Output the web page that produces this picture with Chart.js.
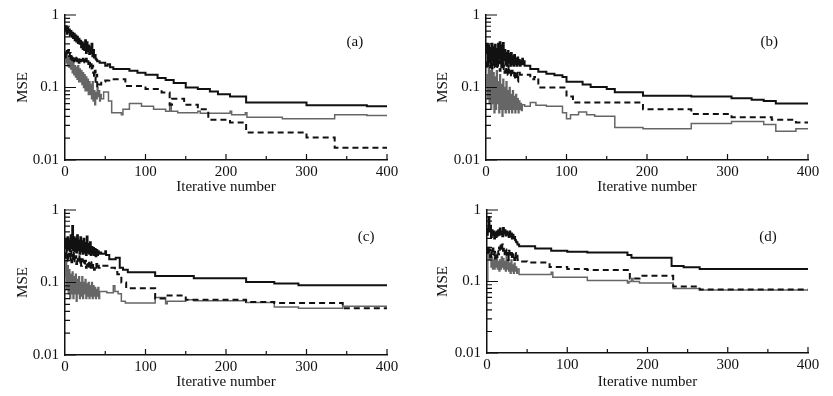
<!DOCTYPE html>
<html lang="en">
<head>
    <meta charset="UTF-8">
    <title>MSE vs iterative number</title>
    <script src="https://cdn.jsdelivr.net/npm/chart.js"></script>
    <style>
        body { margin: 0; background: #fff; }
        .panel { position: absolute; }
    </style>
</head>
<body>
    <canvas id="chartA" class="panel" width="416" height="198" style="left:0;top:0"></canvas>
    <canvas id="chartB" class="panel" width="413" height="198" style="left:420px;top:0"></canvas>
    <canvas id="chartC" class="panel" width="416" height="198" style="left:0;top:195px"></canvas>
    <canvas id="chartD" class="panel" width="413" height="198" style="left:420px;top:195px"></canvas>
    <script>
        // axis values
        const xTicks = [0, 100, 200, 300, 400];
        const yTickLabels = [0.01, 0.1, 1];

        // [iteration, MSE] pairs (stepped lines)
        // panel (a)
        const aBlack = [[0,0.62],[1,0.7],[2,0.55],[3,0.66],[4,0.58],[5,0.63],[6,0.52],[7,0.6],[8,0.5],[9,0.57],[10,0.48],[11,0.55],[12,0.45],[13,0.52],[14,0.43],[15,0.5],[16,0.41],[17,0.47],[18,0.4],[19,0.44],[20,0.36],[21,0.42],[22,0.34],[23,0.4],[24,0.33],[25,0.45],[26,0.3],[27,0.42],[28,0.32],[29,0.38],[30,0.29],[31,0.36],[32,0.3],[33,0.4],[34,0.27],[35,0.33],[36,0.26],[37,0.28],[38,0.25],[39,0.24],[40,0.23],[43,0.22],[50,0.2],[53,0.21],[56,0.19],[60,0.18],[80,0.17],[90,0.16],[100,0.15],[115,0.135],[125,0.127],[135,0.115],[150,0.1],[165,0.095],[180,0.088],[190,0.081],[205,0.075],[225,0.062],[300,0.057],[375,0.055],[400,0.055]];
        const aDash = [[0,0.3],[1,0.26],[2,0.32],[3,0.28],[4,0.33],[5,0.27],[6,0.3],[7,0.25],[8,0.29],[9,0.24],[10,0.27],[11,0.23],[12,0.26],[13,0.24],[14,0.27],[15,0.23],[16,0.25],[17,0.22],[18,0.26],[19,0.23],[20,0.24],[21,0.22],[22,0.25],[23,0.21],[24,0.24],[25,0.22],[26,0.25],[27,0.21],[28,0.23],[29,0.2],[30,0.22],[31,0.19],[32,0.21],[33,0.17],[34,0.2],[35,0.16],[36,0.14],[37,0.17],[38,0.12],[39,0.15],[40,0.1],[42,0.11],[45,0.12],[50,0.125],[55,0.13],[75,0.105],[100,0.095],[120,0.085],[130,0.058],[133,0.07],[148,0.058],[165,0.05],[178,0.036],[205,0.033],[225,0.024],[300,0.0205],[335,0.0148],[400,0.0148]];
        const aGray = [[0,0.28],[1,0.22],[2,0.3],[3,0.2],[4,0.27],[5,0.19],[6,0.25],[7,0.18],[8,0.24],[9,0.16],[10,0.22],[11,0.15],[12,0.2],[13,0.14],[14,0.19],[15,0.13],[16,0.2],[17,0.12],[18,0.18],[19,0.12],[20,0.17],[21,0.11],[22,0.16],[23,0.1],[24,0.15],[25,0.09],[26,0.14],[27,0.09],[28,0.13],[29,0.08],[30,0.12],[31,0.08],[32,0.11],[33,0.07],[34,0.12],[35,0.065],[36,0.09],[37,0.058],[38,0.085],[39,0.07],[40,0.1],[41,0.075],[42,0.09],[43,0.065],[44,0.08],[45,0.07],[48,0.087],[54,0.065],[58,0.045],[70,0.042],[72,0.05],[80,0.06],[95,0.055],[110,0.05],[125,0.047],[130,0.06],[132,0.047],[140,0.045],[165,0.047],[168,0.044],[205,0.047],[207,0.042],[224,0.045],[226,0.039],[270,0.037],[335,0.042],[375,0.041],[400,0.041]];

        // panel (b)
        const bBlack = [[0,0.3],[1,0.4],[2,0.22],[3,0.38],[4,0.25],[5,0.35],[6,0.2],[7,0.4],[8,0.24],[9,0.36],[10,0.21],[11,0.39],[12,0.23],[13,0.34],[14,0.2],[15,0.4],[16,0.25],[17,0.42],[18,0.22],[19,0.38],[20,0.2],[21,0.41],[22,0.24],[23,0.33],[24,0.21],[25,0.3],[26,0.2],[27,0.32],[28,0.22],[29,0.29],[30,0.2],[31,0.3],[32,0.21],[33,0.27],[34,0.2],[35,0.28],[36,0.21],[37,0.25],[38,0.2],[39,0.26],[40,0.21],[41,0.24],[42,0.2],[43,0.23],[44,0.21],[45,0.25],[46,0.21],[47,0.23],[48,0.2],[50,0.2],[55,0.18],[65,0.165],[75,0.155],[85,0.148],[95,0.14],[100,0.12],[120,0.11],[130,0.102],[150,0.095],[160,0.086],[195,0.077],[255,0.075],[305,0.071],[330,0.068],[345,0.065],[360,0.06],[400,0.059]];
        const bDash = [[0,0.22],[1,0.18],[2,0.25],[3,0.2],[4,0.28],[5,0.19],[6,0.23],[7,0.17],[8,0.24],[9,0.2],[10,0.26],[11,0.19],[12,0.22],[13,0.18],[14,0.25],[15,0.2],[16,0.23],[17,0.17],[18,0.21],[19,0.19],[20,0.22],[21,0.17],[22,0.2],[23,0.16],[24,0.19],[25,0.16],[26,0.18],[27,0.15],[28,0.2],[29,0.16],[30,0.18],[31,0.14],[32,0.17],[33,0.15],[34,0.16],[35,0.13],[36,0.17],[37,0.14],[38,0.16],[39,0.12],[40,0.15],[41,0.16],[42,0.15],[45,0.15],[55,0.13],[60,0.14],[65,0.1],[100,0.075],[108,0.062],[195,0.05],[255,0.043],[305,0.039],[355,0.036],[385,0.033],[400,0.033]];
        const bGray = [[0,0.1],[1,0.15],[2,0.07],[3,0.2],[4,0.06],[5,0.17],[6,0.05],[7,0.19],[8,0.06],[9,0.16],[10,0.045],[11,0.14],[12,0.05],[13,0.17],[14,0.06],[15,0.12],[16,0.045],[17,0.15],[18,0.05],[19,0.11],[20,0.04],[21,0.13],[22,0.05],[23,0.1],[24,0.045],[25,0.12],[26,0.05],[27,0.09],[28,0.045],[29,0.1],[30,0.05],[31,0.08],[32,0.045],[33,0.09],[34,0.05],[35,0.075],[36,0.045],[37,0.08],[38,0.05],[39,0.07],[40,0.045],[41,0.065],[42,0.05],[43,0.06],[44,0.048],[45,0.058],[48,0.055],[55,0.062],[62,0.057],[75,0.055],[95,0.045],[100,0.037],[105,0.042],[115,0.046],[125,0.042],[135,0.04],[160,0.028],[195,0.027],[255,0.032],[305,0.034],[345,0.031],[360,0.025],[385,0.027],[400,0.027]];

        // panel (c)
        const cBlack = [[0,0.3],[1,0.4],[2,0.28],[3,0.42],[4,0.3],[5,0.38],[6,0.27],[7,0.45],[8,0.3],[9,0.6],[10,0.28],[11,0.42],[12,0.27],[13,0.4],[14,0.26],[15,0.45],[16,0.28],[17,0.38],[18,0.25],[19,0.42],[20,0.27],[21,0.37],[22,0.25],[23,0.4],[24,0.26],[25,0.35],[26,0.24],[27,0.43],[28,0.26],[29,0.34],[30,0.25],[31,0.36],[32,0.24],[33,0.31],[34,0.25],[35,0.3],[36,0.24],[37,0.29],[38,0.23],[39,0.28],[40,0.24],[41,0.27],[42,0.25],[43,0.26],[45,0.25],[50,0.27],[51,0.24],[55,0.21],[63,0.22],[68,0.16],[72,0.15],[78,0.138],[112,0.123],[160,0.114],[225,0.102],[260,0.097],[290,0.092],[400,0.09]];
        const cDash = [[0,0.22],[1,0.28],[2,0.2],[3,0.3],[4,0.21],[5,0.25],[6,0.2],[7,0.27],[8,0.19],[9,0.24],[10,0.2],[11,0.26],[12,0.19],[13,0.23],[14,0.18],[15,0.22],[16,0.2],[17,0.24],[18,0.18],[19,0.22],[20,0.17],[21,0.21],[22,0.18],[23,0.2],[24,0.17],[25,0.2],[26,0.16],[27,0.19],[28,0.17],[29,0.2],[30,0.16],[31,0.18],[32,0.15],[33,0.19],[34,0.16],[35,0.18],[36,0.15],[37,0.17],[38,0.16],[39,0.18],[40,0.16],[41,0.17],[42,0.16],[43,0.17],[45,0.17],[55,0.16],[62,0.14],[65,0.13],[70,0.1],[76,0.083],[112,0.06],[125,0.066],[150,0.058],[225,0.054],[260,0.052],[345,0.044],[400,0.044]];
        const cGray = [[0,0.12],[1,0.2],[2,0.08],[3,0.17],[4,0.07],[5,0.15],[6,0.06],[7,0.13],[8,0.07],[9,0.14],[10,0.06],[11,0.12],[12,0.07],[13,0.13],[14,0.055],[15,0.11],[16,0.07],[17,0.12],[18,0.06],[19,0.1],[20,0.065],[21,0.12],[22,0.06],[23,0.1],[24,0.07],[25,0.11],[26,0.06],[27,0.095],[28,0.065],[29,0.1],[30,0.06],[31,0.09],[32,0.065],[33,0.1],[34,0.06],[35,0.09],[36,0.065],[37,0.085],[38,0.06],[39,0.08],[40,0.065],[41,0.085],[42,0.06],[43,0.075],[45,0.075],[52,0.072],[60,0.09],[62,0.075],[66,0.07],[70,0.055],[75,0.052],[112,0.062],[125,0.051],[127,0.055],[150,0.058],[160,0.056],[225,0.053],[260,0.046],[290,0.044],[345,0.047],[400,0.048]];

        // panel (d)
        const dBlack = [[0,0.45],[1,0.55],[2,0.8],[3,0.5],[4,0.6],[5,0.42],[6,0.52],[7,0.45],[8,0.5],[9,0.4],[10,0.48],[11,0.42],[12,0.5],[13,0.44],[14,0.52],[15,0.45],[16,0.55],[17,0.46],[18,0.5],[19,0.43],[20,0.56],[21,0.47],[22,0.52],[23,0.44],[24,0.5],[25,0.45],[26,0.48],[27,0.42],[28,0.5],[29,0.43],[30,0.47],[31,0.4],[32,0.45],[33,0.4],[34,0.42],[35,0.38],[36,0.36],[37,0.35],[38,0.33],[40,0.31],[60,0.29],[80,0.27],[100,0.26],[125,0.255],[175,0.235],[180,0.215],[230,0.165],[245,0.158],[265,0.15],[400,0.148]];
        const dDash = [[0,0.25],[1,0.3],[2,0.26],[3,0.28],[4,0.22],[5,0.27],[6,0.24],[7,0.29],[8,0.23],[9,0.26],[10,0.21],[11,0.25],[12,0.22],[13,0.27],[14,0.24],[15,0.3],[16,0.26],[17,0.32],[18,0.28],[19,0.33],[20,0.27],[21,0.3],[22,0.24],[23,0.28],[24,0.22],[25,0.25],[26,0.2],[27,0.27],[28,0.22],[29,0.25],[30,0.21],[31,0.26],[32,0.22],[33,0.24],[34,0.2],[35,0.25],[36,0.21],[37,0.23],[38,0.2],[40,0.19],[50,0.185],[78,0.16],[100,0.15],[125,0.145],[178,0.11],[190,0.12],[232,0.085],[265,0.077],[400,0.077]];
        const dGray = [[0,0.1],[1,0.25],[2,0.3],[3,0.2],[4,0.25],[5,0.16],[6,0.22],[7,0.15],[8,0.2],[9,0.15],[10,0.25],[11,0.16],[12,0.21],[13,0.15],[14,0.19],[15,0.14],[16,0.2],[17,0.15],[18,0.22],[19,0.16],[20,0.21],[21,0.15],[22,0.19],[23,0.14],[24,0.25],[25,0.15],[26,0.2],[27,0.14],[28,0.18],[29,0.13],[30,0.2],[31,0.14],[32,0.17],[33,0.13],[34,0.18],[35,0.14],[36,0.16],[37,0.13],[38,0.15],[40,0.125],[80,0.135],[82,0.115],[125,0.103],[175,0.095],[177,0.1],[180,0.11],[182,0.1],[190,0.095],[232,0.08],[265,0.076],[400,0.076]];

        const ink = '#111';
        const font = { family: "'Liberation Serif', 'Times New Roman', serif", size: 15 };

        // inward tick marks + panel letter
        const axisDeco = {
            id: 'axisDeco',
            afterDraw(chart, args, opts) {
                const ctx = chart.ctx;
                const xs = chart.scales.x, ys = chart.scales.y;
                const left = chart.chartArea.left, bottom = chart.chartArea.bottom;
                ctx.save();
                ctx.strokeStyle = ink;
                ctx.lineWidth = 1.2;
                ctx.beginPath();
                for (const d of [0.01, 0.1]) {
                    for (let k = 2; k <= 9; k++) {
                        const py = ys.getPixelForValue(k * d);
                        ctx.moveTo(left, py); ctx.lineTo(left + 5, py);
                    }
                }
                for (const v of yTickLabels) {
                    const py = ys.getPixelForValue(v);
                    ctx.moveTo(left, py); ctx.lineTo(left + 11, py);
                }
                for (let v = 50; v <= 400; v += 50) {
                    const px = xs.getPixelForValue(v);
                    ctx.moveTo(px, bottom); ctx.lineTo(px, bottom - (v % 100 === 0 ? 6 : 4));
                }
                ctx.stroke();
                ctx.fillStyle = ink;
                ctx.font = font.size + 'px ' + font.family;
                ctx.textAlign = 'center';
                ctx.textBaseline = 'middle';
                const ca = chart.chartArea;
                ctx.fillText(opts.label, ca.left + opts.fx * (ca.right - ca.left), ca.top + opts.fy * (ca.bottom - ca.top));
                ctx.restore();
            }
        };

        const toXY = pairs => pairs.map(([x, y]) => ({ x, y }));

        function makePanel(id, black, dash, gray, label, box) {
            new Chart(document.getElementById(id), {
                type: 'line',
                data: {
                    datasets: [
                        { data: toXY(black), borderColor: ink, borderWidth: 2, stepped: 'before', pointRadius: 0 },
                        { data: toXY(dash), borderColor: ink, borderWidth: 2, borderDash: [6, 4], stepped: 'before', pointRadius: 0 },
                        { data: toXY(gray), borderColor: '#666', borderWidth: 1.5, stepped: 'before', pointRadius: 0 }
                    ]
                },
                options: {
                    responsive: false,
                    animation: false,
                    layout: { padding: { top: box.top, right: box.right, left: 0, bottom: 0 } },
                    plugins: {
                        legend: { display: false },
                        tooltip: { enabled: false },
                        axisDeco: { label: label, fx: box.fx, fy: box.fy }
                    },
                    scales: {
                        x: {
                            type: 'linear', min: 0, max: 400,
                            afterFit: s => { s.height = box.xh; },
                            afterBuildTicks: s => { s.ticks = xTicks.map(v => ({ value: v })); },
                            ticks: { font: font, color: ink, padding: 3, maxRotation: 0 },
                            grid: { display: false, drawTicks: false },
                            border: { display: true, color: ink, width: 1.5 },
                            title: { display: true, text: 'Iterative number', font: font, color: ink, padding: { top: 0, bottom: 2 } }
                        },
                        y: {
                            type: 'logarithmic', min: 0.01, max: 1,
                            afterFit: s => { s.width = box.yw; },
                            afterBuildTicks: s => { s.ticks = yTickLabels.map(v => ({ value: v })); },
                            ticks: { font: font, color: ink, padding: 6, callback: v => String(v) },
                            grid: { display: false, drawTicks: false },
                            border: { display: true, color: ink, width: 1.5 },
                            title: { display: true, text: 'MSE', font: font, color: ink, padding: { top: 14, bottom: 0 } }
                        }
                    }
                },
                plugins: [axisDeco]
            });
        }

        makePanel('chartA', aBlack, aDash, aGray, '(a)', { top: 15, right: 29, yw: 65, xh: 38, fx: 0.9, fy: 0.19 });
        makePanel('chartB', bBlack, bDash, bGray, '(b)', { top: 15, right: 25, yw: 66, xh: 38, fx: 0.88, fy: 0.19 });
        makePanel('chartC', cBlack, cDash, cGray, '(c)', { top: 15, right: 29, yw: 65, xh: 38, fx: 0.935, fy: 0.19 });
        makePanel('chartD', dBlack, dDash, dGray, '(d)', { top: 15, right: 25, yw: 67, xh: 40, fx: 0.875, fy: 0.19 });
    </script>
</body>
</html>
